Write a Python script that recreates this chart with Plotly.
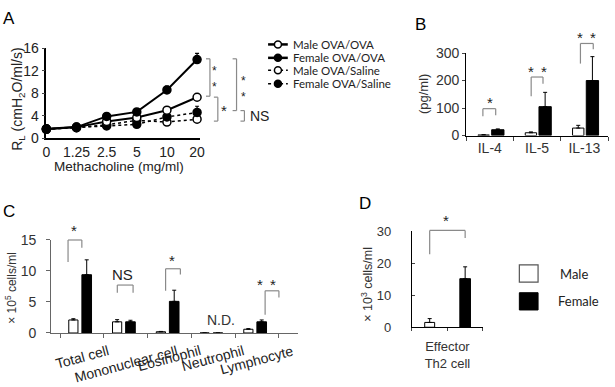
import plotly.graph_objects as go

W, H = 615, 387
def fx(p): return p / W
def fy(p): return 1 - p / H

FONT = "Liberation Sans, Arial, sans-serif"
LFONT = "Lato, Open Sans, sans-serif"

# ---------------- Panel A data ----------------
doses = ["0", "1.25", "2.5", "5", "10", "20"]
male_ova_ova = [1.6, 2.0, 3.0, 3.7, 5.0, 7.3]
male_ova_ova_err = [0.1, 0.1, 0.2, 0.3, 0.4, 0.5]
female_ova_ova = [1.7, 2.0, 3.9, 4.7, 8.6, 14.0]
female_ova_ova_err = [0.1, 0.2, 0.3, 0.4, 0.7, 1.1]
male_ova_sal = [1.6, 1.9, 2.4, 3.2, 2.9, 3.4]
male_ova_sal_err = [0.1, 0.1, 0.2, 0.3, 0.3, 0.5]
female_ova_sal = [1.7, 1.9, 2.2, 2.5, 3.8, 4.6]
female_ova_sal_err = [0.1, 0.1, 0.2, 0.2, 0.5, 1.1]
series_names = ["Male OVA/OVA", "Female OVA/OVA", "Male OVA/Saline", "Female OVA/Saline"]

# ---------------- Panel B data ----------------
cytokines = ["IL-4", "IL-5", "IL-13"]
b_male = [2, 10, 27]
b_male_err = [1, 3, 10]
b_female = [21, 105, 200]
b_female_err = [3, 52, 87]

# ---------------- Panel C data ----------------
cells = ["Total cell", "Mononuclear cell", "Eosinophil", "Neutrophil", "Lymphocyte"]
c_male = [2.1, 1.8, 0.2, 0, 0.6]
c_male_err = [0.2, 0.35, 0.05, 0, 0.1]
c_female = [9.4, 1.8, 5.1, 0, 1.8]
c_female_err = [2.4, 0.25, 1.8, 0, 0.3]

# ---------------- Panel D data ----------------
d_male = [1.5]
d_male_err = [1.2]
d_female = [15.2]
d_female_err = [3.7]
d_label = "Effector<br>Th2 cell"

fig = go.Figure()
xi = list(range(len(doses)))

styles = [
    dict(vals=male_ova_ova, err=male_ova_ova_err, fill="white", dash="solid", lw=2),
    dict(vals=female_ova_ova, err=female_ova_ova_err, fill="black", dash="solid", lw=2),
    dict(vals=male_ova_sal, err=male_ova_sal_err, fill="white", dash="dot", lw=1.5),
    dict(vals=female_ova_sal, err=female_ova_sal_err, fill="black", dash="dot", lw=1.5),
]
for idx in [2, 3, 0, 1]:
    s = styles[idx]
    fig.add_trace(go.Scatter(
        x=xi, y=s["vals"], mode="lines+markers", name=series_names[idx],
        line=dict(color="black", width=s["lw"], dash=s["dash"]),
        marker=dict(symbol="circle", size=8, color=s["fill"], line=dict(color="black", width=1.5)),
        error_y=dict(type="data", symmetric=False, array=s["err"], arrayminus=[0] * len(xi),
                     color="black", thickness=1.2, width=2),
        cliponaxis=False, showlegend=False, xaxis="x", yaxis="y"))

# Panel B bars
fig.add_trace(go.Bar(x=cytokines, y=b_male, offset=-0.25, width=0.24,
                     marker=dict(color="white", line=dict(color="black", width=1)),
                     error_y=dict(type="data", symmetric=False, array=b_male_err, arrayminus=[0]*3,
                                  color="black", thickness=1, width=2),
                     showlegend=False, xaxis="x2", yaxis="y2"))
fig.add_trace(go.Bar(x=cytokines, y=b_female, offset=0.04, width=0.26,
                     marker=dict(color="black", line=dict(color="black", width=1)),
                     error_y=dict(type="data", symmetric=False, array=b_female_err, arrayminus=[0]*3,
                                  color="black", thickness=1, width=2),
                     showlegend=False, xaxis="x2", yaxis="y2"))

# Panel C bars
fig.add_trace(go.Bar(x=cells, y=c_male, offset=-0.30, width=0.21,
                     marker=dict(color="white", line=dict(color="black", width=1)),
                     error_y=dict(type="data", symmetric=False, array=c_male_err, arrayminus=[0]*5,
                                  color="black", thickness=1, width=2),
                     showlegend=False, xaxis="x3", yaxis="y3"))
fig.add_trace(go.Bar(x=cells, y=c_female, offset=0.0, width=0.22,
                     marker=dict(color="black", line=dict(color="black", width=1)),
                     error_y=dict(type="data", symmetric=False, array=c_female_err, arrayminus=[0]*5,
                                  color="black", thickness=1, width=2),
                     showlegend=False, xaxis="x3", yaxis="y3"))

# Panel D bars
fig.add_trace(go.Bar(x=[0.5], y=d_male, width=0.28,
                     marker=dict(color="white", line=dict(color="black", width=1)),
                     error_y=dict(type="data", symmetric=False, array=d_male_err, arrayminus=[0],
                                  color="black", thickness=1, width=2),
                     showlegend=False, xaxis="x4", yaxis="y4"))
fig.add_trace(go.Bar(x=[1.5], y=d_female, width=0.3,
                     marker=dict(color="black", line=dict(color="black", width=1)),
                     error_y=dict(type="data", symmetric=False, array=d_female_err, arrayminus=[0],
                                  color="black", thickness=1, width=2),
                     showlegend=False, xaxis="x4", yaxis="y4"))

tf = lambda s, c="#222": dict(family=FONT, size=s, color=c)

fig.update_layout(
    width=W, height=H, margin=dict(l=0, r=0, t=0, b=0),
    paper_bgcolor="white", plot_bgcolor="white", barmode="overlay",
    font=dict(family=FONT, color="#222"),
    xaxis=dict(domain=[fx(43), fx(199)], range=[0, 5.1], tickvals=xi, ticktext=doses,
               showline=True, linecolor="black", linewidth=1.5, ticks="", showgrid=False,
               zeroline=False, tickfont=tf(14), anchor="y"),
    yaxis=dict(domain=[fy(136), fy(42)], range=[0, 16], tickvals=[0, 4, 8, 12, 16],
               showline=True, linecolor="black", linewidth=1.5, ticks="outside", ticklen=3,
               showgrid=False, zeroline=False, tickfont=tf(14), anchor="x"),
    xaxis2=dict(domain=[fx(469), fx(613)], type="category", tickson="boundaries",
                ticks="outside", ticklen=4, showline=True, linecolor="black", linewidth=1.2,
                showgrid=False, tickfont=tf(14, "#333"), anchor="y2"),
    yaxis2=dict(domain=[fy(133), fy(47)], range=[0, 300], tickvals=[0, 100, 200, 300],
                ticks="outside", ticklen=3, showline=True, linecolor="black", linewidth=1.2,
                showgrid=False, zeroline=False, tickfont=tf(14, "#333"), anchor="x2"),
    xaxis3=dict(domain=[fx(48), fx(298)], type="category", tickson="boundaries",
                ticks="outside", ticklen=4, showline=True, linecolor="#666", linewidth=1.2,
                tickcolor="#666", showgrid=False, showticklabels=False, anchor="y3"),
    yaxis3=dict(domain=[fy(339), fy(242)], range=[0, 15], tickvals=[0, 5, 10, 15],
                ticks="outside", ticklen=4, showline=True, linecolor="#666", linewidth=1.2,
                tickcolor="#666", showgrid=False, zeroline=False, tickfont=tf(14, "#333"),
                ticklabelstandoff=7, anchor="x3"),
    xaxis4=dict(domain=[fx(414), fx(486)], range=[0, 2], tickvals=[0, 1, 2],
                ticktext=["", d_label, ""], ticks="outside", ticklen=3, showline=True,
                linecolor="black", linewidth=1.2, showgrid=False, zeroline=False,
                tickfont=tf(13, "#333"), ticklabelstandoff=4, anchor="y4"),
    yaxis4=dict(domain=[fy(333), fy(233)], range=[0, 30], tickvals=[0, 10, 20, 30],
                ticks="inside", ticklen=3, showline=True, linecolor="black", linewidth=1.2,
                showgrid=False, zeroline=False, tickfont=tf(13, "#333"),
                ticklabelstandoff=17, anchor="x4"),
)

ann = []
shapes = []
def text(px, py, s, size=13, color="#222", angle=0, xanchor="center", yanchor="middle", family=FONT):
    ann.append(dict(x=fx(px), y=fy(py), xref="paper", yref="paper", text=s, showarrow=False,
                    font=dict(family=family, size=size, color=color), textangle=angle,
                    xanchor=xanchor, yanchor=yanchor))

def seg(x0, y0, x1, y1, color="#8a8a8a", w=1.2, dash="solid"):
    shapes.append(dict(type="line", xref="paper", yref="paper", x0=fx(x0), y0=fy(y0),
                       x1=fx(x1), y1=fy(y1), line=dict(color=color, width=w, dash=dash)))

def hbracket(xl, xr, ytop, ylb, yrb, color="#8a8a8a"):
    seg(xl, ylb, xl, ytop, color)
    seg(xl, ytop, xr, ytop, color)
    seg(xr, ytop, xr, yrb, color)

def vbracket(x, ytop, ybot, tick=4, color="#8a8a8a"):
    seg(x - tick, ytop, x, ytop, color)
    seg(x, ytop, x, ybot, color)
    seg(x, ybot, x - tick, ybot, color)

STAR = 15
# Panel letters
text(5, 11, "A", 17, "black")
text(423, 17, "B", 17, "black")
text(5, 212, "C", 17, "black")
text(366, 204, "D", 17, "black")

# Axis titles
text(14, 95, "R<sub>L</sub> (cmH<sub>2</sub>O/ml/s)", 14, angle=-90)
text(117, 165, "Methacholine (mg/ml)", 13.5)
text(425, 90, "(pg/ml)", 13, "#333", angle=-90)
text(7, 292, "× 10<sup>5</sup> cells/ml", 12, "#333", angle=-90)
text(368, 288, "× 10<sup>3</sup> cells/ml", 12.5, "#333", angle=-90)

# Panel A brackets
vbracket(209, 53, 92)
text(214, 74, "*<br>*", 12)
vbracket(236, 53, 107)
text(243, 85, "*<br>*", 12)
vbracket(217, 93, 118)
text(223, 107, "*", STAR)
vbracket(244, 107, 118)
text(248, 113, "NS", 14, xanchor="left")

# Panel A legend
leg_rows = [38, 52, 65, 79]
for name, row, s in zip(series_names, leg_rows, styles):
    seg(268, row, 288, row, "black", 2.5 if s["dash"] == "solid" else 1.5, s["dash"])
    shapes.append(dict(type="circle", xref="paper", yref="paper", xsizemode="pixel",
                       ysizemode="pixel", xanchor=fx(278), yanchor=fy(row),
                       x0=-3.5, x1=3.5, y0=-3.5, y1=3.5, fillcolor=s["fill"],
                       line=dict(color="black", width=1.5)))
    text(291, row, name, 11.5, "#222", xanchor="left", family=LFONT)

# Panel B brackets
hbracket(486, 499, 105, 113, 112)
text(493, 99, "*", STAR)
hbracket(535, 547, 72, 92, 79)
text(535, 66, "*", STAR); text(548, 66, "*", STAR)
hbracket(585, 598, 37, 58, 43)
text(585, 31, "*", STAR); text(598, 31, "*", STAR)

# Panel C brackets
hbracket(65, 79, 242, 265, 250)
text(71, 232, "*", STAR)
hbracket(115, 131, 289, 297, 297)
text(120, 278, "NS", 15, "#222")
hbracket(164, 179, 272, 295, 278)
text(171, 263, "*", STAR)
hbracket(265, 279, 295, 320, 302)
text(260, 288, "*", STAR); text(273, 288, "*", STAR)
text(220, 325, "N.D.", 14, "#333")

# Panel C category labels (rotated)
for c in cells:
    ann.append(dict(x=c, y=fy(346), xref="x3", yref="paper", text=c, showarrow=False,
                    textangle=-15, xanchor="center", yanchor="top",
                    font=dict(family=FONT, size=14, color="#222")))

# Panel D bracket & legend
hbracket(432, 468, 232, 257, 240)
text(449, 222, "*", STAR)
shapes.append(dict(type="rect", xref="paper", yref="paper", x0=fx(523), x1=fx(542),
                   y0=fy(286), y1=fy(268), fillcolor="white", line=dict(color="#555", width=1.2)))
shapes.append(dict(type="rect", xref="paper", yref="paper", x0=fx(523), x1=fx(542),
                   y0=fy(315), y1=fy(297), fillcolor="black", line=dict(color="black", width=1)))
text(562, 277, "Male", 13, "#222", xanchor="left", family=LFONT)
text(560, 306, "Female", 13, "#222", xanchor="left", family=LFONT)

fig.update_layout(annotations=ann, shapes=shapes)
fig.write_html("out.html")
